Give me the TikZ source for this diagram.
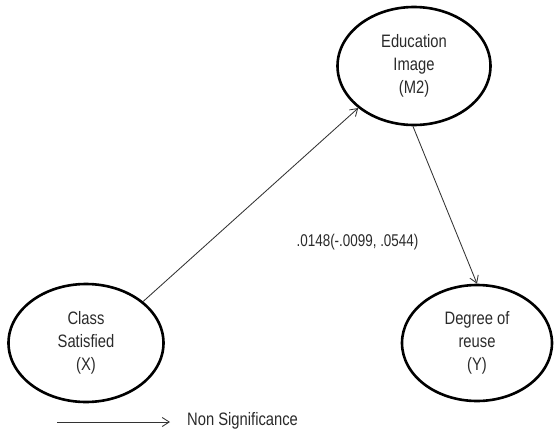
\documentclass[tikz,border=0pt]{standalone}
\usepackage{fontspec}
\setmainfont{Liberation Sans}[FakeStretch=0.82]
\newfontfamily\labfont{Liberation Sans}[FakeStretch=0.79]
\usetikzlibrary{shapes.geometric,arrows.meta}
\definecolor{txt}{HTML}{2A2A2A}
\definecolor{arr}{HTML}{333333}
\tikzset{
  latent/.style={ellipse, draw=black, line width=2.6pt, align=center, inner sep=0pt,
    font=\fontsize{18}{23}\selectfont, text=txt},
  path/.style={draw=arr, line width=0.85pt, -{Straight Barb[length=7pt,width=9pt,line width=0.85pt]}},
  lbl/.style={font=\labfont\fontsize{17}{23}\selectfont, text=txt, inner sep=0pt},
  leglbl/.style={font=\fontsize{18}{23}\selectfont, text=txt, inner sep=0pt}
}
\begin{document}
\begin{tikzpicture}[x=1pt,y=-1pt]
\useasboundingbox (0,0) rectangle (555,434);
\node[latent, minimum width=155pt, minimum height=118pt] (cls) at (86,343) {Class\\Satisfied\\(X)};
\node[latent, minimum width=153pt, minimum height=118pt] (edu) at (414,66) {Education\\Image\\(M2)};
\node[latent, minimum width=150pt, minimum height=116pt] (deg) at (477,343) {Degree of\\reuse\\(Y)};
\draw[path] (cls.36) -- (edu.217);
\draw[path] (edu.269) -- (deg.90);
\node[lbl] (eff) at (357.5,242) {.0148(-.0099, .0544)};
\coordinate (l1) at (57,422);
\coordinate (l2) at (170,422);
\draw[path] (l1) -- (l2);
\node[leglbl, anchor=west] (leg) at (187,421) {Non Significance};
\end{tikzpicture}
\end{document}
